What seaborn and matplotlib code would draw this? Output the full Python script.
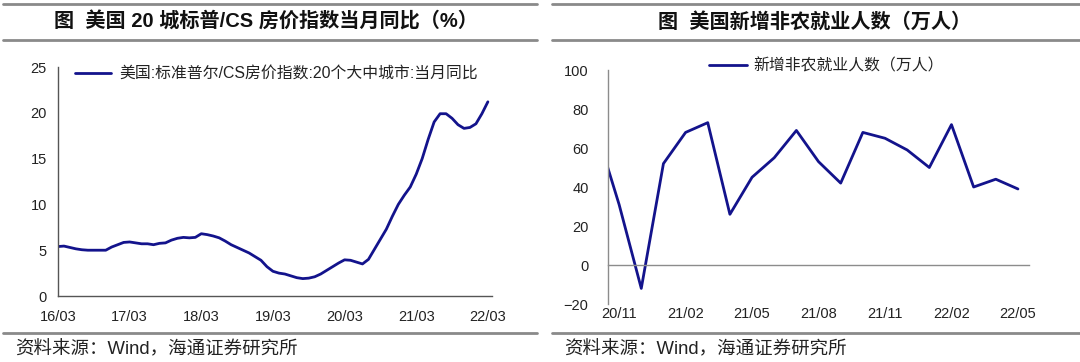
## US house prices and payrolls

#----------------------------------------------------
# import
#----------------------------------------------------

import matplotlib
matplotlib.use("Agg")
import matplotlib.pyplot as plt
import seaborn as sns
import numpy as np
from matplotlib.lines import Line2D

#----------------------------------------------------
# data
#----------------------------------------------------

# S&P/CS 20 city yoy, monthly 16/03 .. 22/03
hpi_ticks = ["16/03", "17/03", "18/03", "19/03", "20/03", "21/03", "22/03"]
hpi_yoy = [
    5.4, 5.45, 5.3, 5.15, 5.05, 5.0, 5.0, 5.0, 5.0, 5.35, 5.6, 5.85,
    5.9, 5.8, 5.7, 5.7, 5.6, 5.75, 5.8, 6.1, 6.3, 6.4, 6.35, 6.4,
    6.8, 6.7, 6.55, 6.35, 6.0, 5.6, 5.3, 5.0, 4.7, 4.3, 3.9, 3.2,
    2.7, 2.5, 2.4, 2.2, 2.0, 1.9, 1.95, 2.1, 2.4, 2.8, 3.2, 3.6,
    3.95, 3.9, 3.7, 3.5, 4.0, 5.1, 6.2, 7.3, 8.7, 10.0, 11.0, 11.9,
    13.3, 15.0, 17.1, 19.0, 19.9, 19.9, 19.4, 18.7, 18.3, 18.4, 18.8, 19.9,
    21.2,
]
hpi_name = "美国:标准普尔/CS房价指数:20个大中城市:当月同比"

# nonfarm payrolls (10k), monthly 20/10 .. 22/05
nfp_months = ["20/10", "20/11", "20/12", "21/01", "21/02", "21/03", "21/04",
              "21/05", "21/06", "21/07", "21/08", "21/09", "21/10", "21/11",
              "21/12", "22/01", "22/02", "22/03", "22/04", "22/05"]
nfp_value = [68, 31, -12, 52, 68, 73, 26, 45, 55, 69, 53, 42, 68, 65, 59,
             50, 72, 40, 44, 39]
nfp_name = "新增非农就业人数（万人）"

title_left = "图  美国 20 城标普/CS 房价指数当月同比（%）"
title_right = "图  美国新增非农就业人数（万人）"
source_text = "资料来源：Wind，海通证券研究所"

LINE_COLOR = "#13138c"
RULE_COLOR = "#8a8a8a"

#----------------------------------------------------
# frame : rules, titles, source
#----------------------------------------------------

def draw_frame(fig, x0, x1, title, xc):
    for y in (0.990, 0.889, 0.080):
        fig.add_artist(Line2D([x0, x1], [y, y], color=RULE_COLOR, lw=2))
    fig.text(xc, 0.940, title, ha="center", va="center",
             fontsize=14.5, fontweight="bold", color="#111111")
    fig.text(x0 + 0.011, 0.034, source_text, ha="left", va="center",
             fontsize=13.3, color="#222222")

#----------------------------------------------------
# left : house price
#----------------------------------------------------

def show_hpi(ax):
    x = np.arange(len(hpi_yoy))
    sns.lineplot(x=x, y=hpi_yoy, ax=ax, color=LINE_COLOR, lw=2, label=hpi_name)
    ax.set_xlim(0, 72.7)
    ax.set_ylim(0, 25)
    ax.set_xticks(np.arange(0, len(hpi_yoy), 12))
    ax.set_xticklabels(hpi_ticks)
    ax.set_yticks([0, 5, 10, 15, 20, 25])
    for side in ("top", "right"):
        ax.spines[side].set_visible(False)
    for side in ("left", "bottom"):
        ax.spines[side].set_color("#555555")
        ax.spines[side].set_linewidth(1.0)
    ax.tick_params(axis="x", direction="out", length=5, width=1,
                   color="#555555", pad=5, labelsize=10.5)
    ax.tick_params(axis="y", direction="out", length=4, width=1,
                   color="#555555", pad=4, labelsize=10.5)
    ax.legend(loc="upper left", bbox_to_anchor=(0.02, 1.035), frameon=False,
              borderpad=0, handlelength=2.3, handletextpad=0.5, fontsize=11.4)

#----------------------------------------------------
# right : payrolls
#----------------------------------------------------

def show_nfp(ax):
    x = np.arange(len(nfp_value))
    sns.lineplot(x=x, y=nfp_value, ax=ax, color=LINE_COLOR, lw=2, label=nfp_name)
    ax.set_xlim(0.5, len(nfp_value) - 0.5)
    ax.set_ylim(-20, 100)
    ax.set_yticks([-20, 0, 20, 40, 60, 80, 100])
    # tick marks sit on the zero line, labels below the plot
    ax.spines["bottom"].set_position(("data", 0))
    ax.set_xticks(np.arange(3.5, len(nfp_value), 3))
    ax.set_xticklabels([])
    for side in ("top", "right"):
        ax.spines[side].set_visible(False)
    for side in ("left", "bottom"):
        ax.spines[side].set_color("#8c8c8c")
        ax.spines[side].set_linewidth(1.0)
    ax.tick_params(axis="x", direction="out", length=5, width=1, color="#8c8c8c")
    ax.tick_params(axis="y", direction="out", length=4, width=1,
                   color="#8c8c8c", pad=10, labelsize=10.5)

    sec = ax.secondary_xaxis(0.0)
    sec.set_xticks(np.arange(1, len(nfp_value), 3))
    sec.set_xticklabels(nfp_months[1::3])
    sec.spines["bottom"].set_visible(False)
    sec.tick_params(length=0, pad=2, labelsize=10.5)

    ax.legend(loc="upper left", bbox_to_anchor=(0.222, 1.085), frameon=False,
              borderpad=0, handlelength=2.4, handletextpad=0.35, fontsize=11.4)

#----------------------------------------------------
# Main
#----------------------------------------------------

def main():
    sns.set_style("white")
    plt.rcParams["font.family"] = ["Liberation Sans", "Noto Sans CJK SC", "DejaVu Sans"]
    plt.rcParams["text.color"] = "#222222"
    plt.rcParams["xtick.color"] = "#222222"
    plt.rcParams["ytick.color"] = "#222222"

    fig = plt.figure(figsize=(10.8, 3.62), dpi=100)

    ax_l = fig.add_axes([0.0537, 0.1823, 0.4019, 0.6326])
    ax_r = fig.add_axes([0.5630, 0.1602, 0.3898, 0.6464])

    show_hpi(ax_l)
    show_nfp(ax_r)

    draw_frame(fig, 0.003, 0.497, title_left, 0.246)
    draw_frame(fig, 0.511, 1.000, title_right, 0.754)

    fig.savefig("out.png", dpi=100)
    return


if __name__ == '__main__':
    main()
